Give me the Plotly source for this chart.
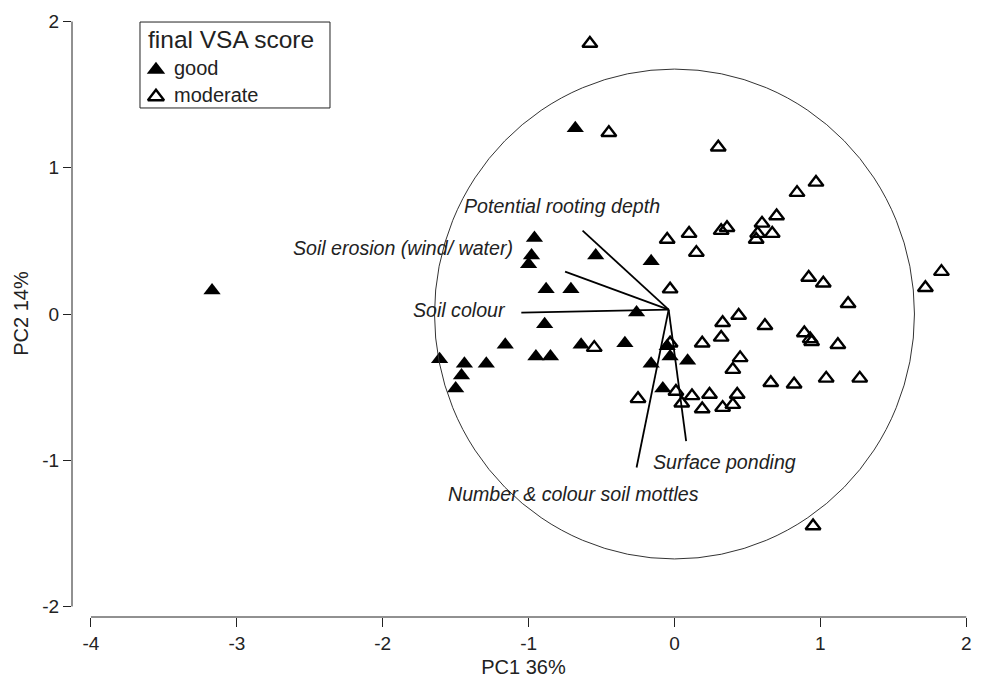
import plotly.graph_objects as go

good_x = [-3.17, -0.68, -0.96, -0.98, -1.00, -0.54, -0.16, -0.88, -0.71, -0.26, -0.89,
          -1.61, -1.44, -1.46, -1.50, -1.29, -1.16, -0.95, -0.85, -0.64, -0.34, -0.16,
          -0.05, -0.03, 0.09, -0.08]
good_y = [0.16, 1.27, 0.52, 0.40, 0.34, 0.40, 0.36, 0.17, 0.17, 0.01, -0.07,
          -0.31, -0.34, -0.42, -0.51, -0.34, -0.21, -0.29, -0.29, -0.21, -0.20, -0.34,
          -0.22, -0.29, -0.32, -0.51]

mod_x = [-0.58, -0.45, 0.30, 0.97, 0.84, 0.70, 0.60, 0.67, 0.57, 0.56, 0.36, 0.32,
         0.10, -0.05, 0.15, -0.03, 0.92, 1.02, 1.19, 1.83, 1.72, 0.33, 0.44, 0.62,
         0.89, 0.93, 0.94, 1.12, 0.32, 0.19, 0.45, 0.40, 0.66, 0.82, 1.04, 1.27,
         -0.03, 0.01, 0.05, 0.12, 0.24, 0.19, 0.33, 0.40, 0.43, -0.55, -0.25, 0.95]
mod_y = [1.85, 1.24, 1.14, 0.90, 0.83, 0.67, 0.62, 0.55, 0.55, 0.51, 0.59, 0.57,
         0.55, 0.51, 0.42, 0.17, 0.25, 0.21, 0.07, 0.29, 0.18, -0.06, -0.01, -0.08,
         -0.13, -0.17, -0.19, -0.21, -0.16, -0.20, -0.30, -0.38, -0.47, -0.48, -0.44, -0.44,
         -0.20, -0.53, -0.61, -0.56, -0.55, -0.65, -0.64, -0.62, -0.55, -0.23, -0.58, -1.45]

vec_names = ["Potential rooting depth", "Soil erosion (wind/ water)", "Soil colour",
             "Number & colour soil mottles", "Surface ponding"]
vec_x = [-0.63, -0.75, -1.05, -0.26, 0.08]
vec_y = [0.57, 0.29, 0.01, -1.05, -0.87]
vec_origin = (-0.04, 0.03)
label_x = [-0.774, -1.09, -1.14, -0.69, 0.34]
label_y = [0.74, 0.45, 0.03, -1.23, -1.01]
label_anchor = ["center", "right", "right", "center", "center"]

circle_r_x = 1.645
circle_r_y = 1.675

x_ticks = [-4, -3, -2, -1, 0, 1, 2]
x_ticktext = ["-4", "-3", "-2", "-1", "0", "1", "2"]
y_ticks = [-2, -1, 0, 1, 2]
y_ticktext = ["-2", "-1", "0", "1", "2"]

legend_title = "final VSA score"
legend_labels = ["good", "moderate"]

FONT = "Liberation Sans, Arial, sans-serif"
TXT = "#222"

fig = go.Figure()

# biplot vectors
for vx, vy in zip(vec_x, vec_y):
    fig.add_trace(go.Scatter(x=[vec_origin[0], vx], y=[vec_origin[1], vy], mode="lines",
                             line=dict(color="black", width=1.8), showlegend=False,
                             hoverinfo="skip"))

good_marker = dict(symbol="triangle-up", size=15, color="black", line=dict(width=0))
mod_marker = dict(symbol="triangle-up-open", size=13, color="black",
                  line=dict(width=2.4, color="black"))

fig.add_trace(go.Scatter(x=good_x, y=good_y, mode="markers", name="good",
                         marker=good_marker, showlegend=False))
fig.add_trace(go.Scatter(x=mod_x, y=mod_y, mode="markers", name="moderate",
                         marker=mod_marker, showlegend=False))

for name, lx, ly, anc in zip(vec_names, label_x, label_y, label_anchor):
    fig.add_annotation(x=lx, y=ly, text=f"<i>{name}</i>", showarrow=False,
                       xanchor=anc, yanchor="middle",
                       font=dict(family=FONT, size=19.6, color=TXT))

# correlation circle
fig.add_shape(type="circle", xref="x", yref="y", x0=-circle_r_x, x1=circle_r_x,
              y0=-circle_r_y, y1=circle_r_y, line=dict(color="#333", width=1))

# R-style axis lines
fig.add_shape(type="line", xref="x", yref="paper", x0=x_ticks[0], x1=x_ticks[-1],
              y0=0, y1=0, line=dict(color=TXT, width=1))
fig.add_shape(type="line", xref="paper", yref="y", x0=0, x1=0,
              y0=y_ticks[0], y1=y_ticks[-1], line=dict(color=TXT, width=1))

# legend (drawn on an overlay paper-like axis pair)
fig.add_shape(type="rect", xref="paper", yref="paper", x0=0.0753, x1=0.2857,
              y0=0.8386, y1=0.9802, line=dict(color=TXT, width=1), fillcolor="white",
              layer="below")
fig.add_annotation(xref="paper", yref="paper", x=0.0825, y=0.9506, text=legend_title,
                   showarrow=False, xanchor="left", yanchor="middle",
                   font=dict(family=FONT, size=24.5, color=TXT))
leg_y = [0.9045, 0.86]
for lab, ly in zip(legend_labels, leg_y):
    fig.add_annotation(xref="paper", yref="paper", x=0.111, y=ly, text=lab,
                       showarrow=False, xanchor="left", yanchor="middle",
                       font=dict(family=FONT, size=20, color=TXT))
fig.add_trace(go.Scatter(x=[0.093], y=[leg_y[0] - 0.003], mode="markers", xaxis="x2",
                         yaxis="y2", marker=dict(symbol="triangle-up", size=16,
                                                 color="black", line=dict(width=0)),
                         showlegend=False, hoverinfo="skip"))
fig.add_trace(go.Scatter(x=[0.093], y=[leg_y[1] - 0.003], mode="markers", xaxis="x2",
                         yaxis="y2", marker=dict(symbol="triangle-up-open", size=14,
                                                 color="black",
                                                 line=dict(width=2.4, color="black")),
                         showlegend=False, hoverinfo="skip"))

fig.update_layout(
    width=973, height=670,
    margin=dict(l=64, r=6, t=2, b=61),
    plot_bgcolor="white", paper_bgcolor="white",
    font=dict(family=FONT, size=19, color=TXT),
    showlegend=False,
    xaxis=dict(range=[-4.13, 2.06], tickvals=x_ticks, ticktext=x_ticktext,
               ticks="outside", ticklen=9, tickcolor=TXT,
               showgrid=False, zeroline=False, showline=False,
               title=dict(text="PC1 36%", font=dict(size=20), standoff=8),
               tickfont=dict(size=19)),
    yaxis=dict(range=[-2.072, 2.079], tickvals=y_ticks, ticktext=y_ticktext,
               ticks="outside", ticklen=8, tickcolor=TXT,
               showgrid=False, zeroline=False, showline=False,
               title=dict(text="PC2 14%", font=dict(size=20), standoff=8),
               tickfont=dict(size=19)),
    xaxis2=dict(overlaying="x", range=[0, 1], visible=False, fixedrange=True),
    yaxis2=dict(overlaying="y", range=[0, 1], visible=False, fixedrange=True),
)

fig.write_html("out.html")
